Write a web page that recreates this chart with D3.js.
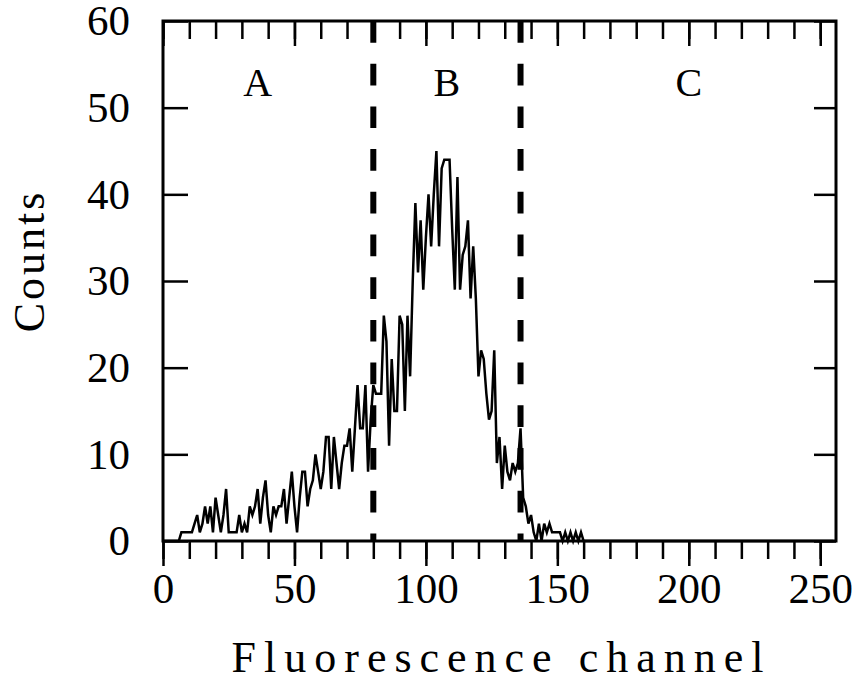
<!DOCTYPE html>
<html>
<head>
<meta charset="utf-8">
<script src="https://cdn.jsdelivr.net/npm/d3@7"></script>
<style>
  html, body { margin: 0; padding: 0; background: #fff; }
  svg { display: block; }
</style>
</head>
<body>
<svg id="chart" width="858" height="683"></svg>
<script>
// ---- data ----
const channels = d3.range(0, 256);
const counts = [
  0,0,0,0,0,0,0,1,1,1,      // 0-9
  1,1,2,3,1,2,4,2,4,1,      // 10-19
  5,3,1,3,6,1,1,1,1,3,      // 20-29
  1,2,1,4,3,4,6,2,5,7,      // 30-39
  3,1,4,3,4,4,6,2,5,8,      // 40-49
  4,1,5,8,8,4,6,7,10,8,     // 50-59
  6,8,12,12,6,12,9,6,9,11,  // 60-69
  11,13,8,13,18,13,13,18,8,14, // 70-79
  18,17,17,17,26,23,11,21,15,15, // 80-89
  26,25,15,26,19,30,39,31,37,29, // 90-99
  35,40,34,40,45,34,43,44,44,44, // 100-109
  36,29,42,29,33,34,37,28,34,28, // 110-119
  19,22,21,17,14,15,22,9,12,6,   // 120-129
  11,8,7,9,8,9,13,5,4,2,         // 130-139
  3,1,0,2,0,2,1,2,1,1,           // 140-149
  1,1,0,1,0,1,0,1,0,1,           // 150-159
  0
].concat(new Array(95).fill(0));
const gateChannels = [80, 136];
const regionLabels = ["A", "B", "C"];
const regionCenters = [36, 108, 200];
const xTickLabels = [0, 50, 100, 150, 200, 250];
const yTickLabels = [0, 10, 20, 30, 40, 50, 60];
const xTitle = "Fluorescence channel";
const yTitle = "Counts";

// ---- layout ----
const svg = d3.select("#chart");
const mL = 163, mR = 836, mT = 21, mB = 541;
const x = d3.scaleLinear().domain([0, 256]).range([mL, mR]);
const y = d3.scaleLinear().domain([0, 60]).range([mB, mT]);
const font = "'Liberation Serif', 'Times New Roman', serif";

// data line
const line = d3.line().x((d, i) => x(channels[i])).y(d => y(d));
svg.append("path")
  .datum(counts)
  .attr("d", line)
  .attr("fill", "none")
  .attr("stroke", "#000")
  .attr("stroke-width", 2.5)
  .attr("stroke-linejoin", "miter");

// gate lines
svg.selectAll(".gate").data(gateChannels).enter().append("line")
  .attr("x1", d => x(d)).attr("x2", d => x(d))
  .attr("y1", y(60)).attr("y2", y(0))
  .attr("stroke", "#000").attr("stroke-width", 6)
  .attr("stroke-dasharray", "21.7,21");

const minorX = d3.range(0, 257, 10);
const bottomAxis = d3.axisBottom(x).tickValues(minorX).tickSize(18).tickFormat("");
const gB = svg.append("g").attr("transform", `translate(0,${mB})`).call(bottomAxis);
const topAxis = d3.axisBottom(x).tickValues(minorX).tickSize(18).tickFormat("");
const gT = svg.append("g").attr("transform", `translate(0,${mT})`).call(topAxis);
const bottomMajor = d3.axisBottom(x).tickValues(xTickLabels).tickSize(25).tickFormat(d3.format("d")).tickPadding(6);
const gBM = svg.append("g").attr("transform", `translate(0,${mB})`).call(bottomMajor);
const topMajor = d3.axisBottom(x).tickValues(xTickLabels).tickSize(25).tickFormat("");
const gTM = svg.append("g").attr("transform", `translate(0,${mT})`).call(topMajor);
const leftAxis = d3.axisRight(y).tickValues(yTickLabels).tickSize(25).tickFormat("");
const gL = svg.append("g").attr("transform", `translate(${mL},0)`).call(leftAxis);
const leftLabels = d3.axisLeft(y).tickValues(yTickLabels).tickSize(0).tickPadding(33).tickFormat(d3.format("d"));
const gLL = svg.append("g").attr("transform", `translate(${mL},0)`).call(leftLabels);
const rightAxis = d3.axisLeft(y).tickValues(yTickLabels).tickSize(22).tickFormat("");
const gR = svg.append("g").attr("transform", `translate(${mR},0)`).call(rightAxis);

[gB, gT, gBM, gTM, gL, gLL, gR].forEach(g => {
  g.select(".domain").remove();
  g.selectAll(".tick line").attr("stroke", "#000").attr("stroke-width", 2.5);
  g.selectAll("text").attr("fill", "#000").style("font-family", font).style("font-size", "43px");
});
gLL.selectAll(".tick line").remove();

// frame
svg.append("rect")
  .attr("x", mL).attr("y", mT)
  .attr("width", mR - mL).attr("height", mB - mT)
  .attr("fill", "none").attr("stroke", "#000").attr("stroke-width", 3);

// region labels
svg.selectAll(".region").data(regionLabels).enter().append("text")
  .attr("x", (d, i) => x(regionCenters[i]))
  .attr("y", 96)
  .attr("text-anchor", "middle")
  .style("font-family", font).style("font-size", "40px")
  .text(d => d);

// axis titles
svg.append("text")
  .attr("x", (mL + mR) / 2 + 2).attr("y", 672)
  .attr("text-anchor", "middle")
  .style("font-family", font).style("font-size", "44px")
  .style("letter-spacing", "8px")
  .text(xTitle);
svg.append("text")
  .attr("transform", `translate(44,261) rotate(-90)`)
  .attr("text-anchor", "middle")
  .style("font-family", font).style("font-size", "44px")
  .style("letter-spacing", "3px")
  .text(yTitle);
</script>
</body>
</html>
